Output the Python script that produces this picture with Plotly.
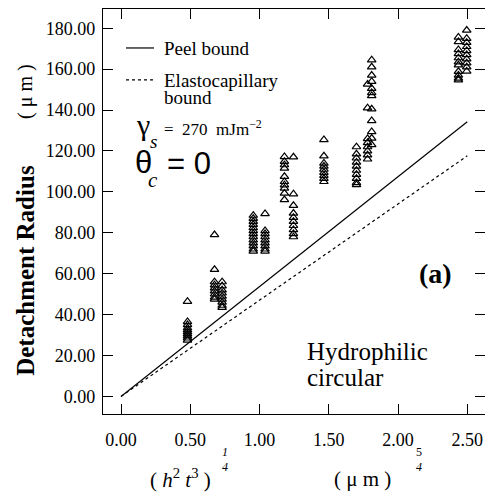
import plotly.graph_objects as go

# ---- data ----
ax_x = [0.48]
ax_y = [46.4, 36.5, 35.0, 33.5, 32.5, 31.5, 30.5, 29.5, 28.5, 27.5]
b_x = [0.675]
b_y = [79.0, 62.0, 56.0, 54.5, 53.0, 51.5, 50.0, 48.5, 47.5]
c_x = [0.73]
c_y = [56.0, 54.0, 52.0, 50.5, 49.0, 47.5, 46.0, 44.5, 43.5]
d_x = [0.955]
d_y = [88.5, 87.0, 85.5, 84.0, 82.5, 81.0, 79.5, 78.0, 76.5, 75.0, 73.5, 72.0, 71.0]
e_x = [1.04]
e_y = [89.3, 81.0, 79.5, 78.0, 76.5, 75.0, 73.5, 72.0, 71.0]
f_x = [1.18]
f_y = [117.2, 114.8, 113.2, 111.5, 107.5, 105.0, 103.4, 101.8, 99.3, 96.1]
g_x = [1.245]
g_y = [117.0, 99.0, 93.3, 89.5, 87.5, 85.5, 83.5, 81.5, 79.5, 78.0]
h_x = [1.465]
h_y = [125.5, 117.5, 114.0, 112.5, 111.0, 109.5, 108.0, 106.5, 105.0]
i_x = [1.70]
i_y = [122.0, 118.5, 116.5, 114.5, 112.5, 110.5, 108.5, 106.5, 104.5, 103.5]
j1_x = [1.78]
j1_y = [152.6, 141.0, 126.0, 124.0, 122.0, 120.0, 118.0, 116.0]
j2_x = [1.81]
j2_y = [164.5, 161.0, 157.0, 154.0, 150.5, 148.5, 147.0, 140.5, 134.8, 129.4, 126.2, 123.0]
k_x = [2.436]
k_y = [175.6, 173.4, 169.5, 167.5, 165.5, 163.5, 162.0, 158.8, 157.0, 155.5, 154.7]
l_x = [2.496]
l_y = [179.0, 175.0, 173.0, 171.0, 169.0, 167.0, 165.0, 163.0, 161.0, 159.0]

line_x = [0.0, 2.5]
peel_y = [0.0, 134.3]
elasto_y = [0.0, 117.6]

x_ticks = [0.0, 0.5, 1.0, 1.5, 2.0, 2.5]
y_ticks = [0, 20, 40, 60, 80, 100, 120, 140, 160, 180]

clusters = [(ax_x, ax_y), (b_x, b_y), (c_x, c_y), (d_x, d_y), (e_x, e_y), (f_x, f_y),
            (g_x, g_y), (h_x, h_y), (i_x, i_y), (j1_x, j1_y), (j2_x, j2_y),
            (k_x, k_y), (l_x, l_y)]
pts_x, pts_y = [], []
for cx, cy in clusters:
    pts_x += cx * len(cy)
    pts_y += cy

SERIF = "'Liberation Serif', 'Times New Roman', Times, 'DejaVu Serif', serif"
SANS = "'Liberation Sans', Arial, Helvetica, sans-serif"

fig = go.Figure()
fig.add_trace(go.Scatter(x=line_x, y=peel_y, mode="lines",
                         line=dict(color="black", width=1.2), showlegend=False))
fig.add_trace(go.Scatter(x=line_x, y=elasto_y, mode="lines",
                         line=dict(color="black", width=1.2, dash="dot"), showlegend=False))
fig.add_trace(go.Scatter(x=pts_x, y=pts_y, mode="markers",
                         marker=dict(symbol="triangle-up-open", size=7.5,
                                     color="black", line=dict(width=1.2, color="black")),
                         showlegend=False))

# plot area in pixels: x 103..485, y 9..414.3
L, R, T, B = 103, 485, 9, 414.3
def px(X):
    return (X - L) / (R - L)
def py(Y):
    return (B - Y) / (B - T)

anns = []
def ann(text, X, Y, size, font=SERIF, xanchor="center", angle=0, color="black"):
    anns.append(dict(text=text, x=px(X), y=py(Y), xref="paper", yref="paper",
                     xanchor=xanchor, yanchor="middle", showarrow=False,
                     textangle=angle, font=dict(family=font, size=size, color=color)))

# legend
ann("Peel bound", 162, 49, 19, xanchor="left")
ann("Elastocapillary", 162, 81, 19, xanchor="left")
ann("bound", 162, 98, 19, xanchor="left")
shapes = [
    dict(type="line", xref="paper", yref="paper", x0=px(126), x1=px(154), y0=py(48), y1=py(48),
         line=dict(color="black", width=1.2)),
    dict(type="line", xref="paper", yref="paper", x0=px(126), x1=px(154), y0=py(80), y1=py(80),
         line=dict(color="black", width=1.2, dash="dot")),
]

# gamma_s = 270 mJm^-2
ann("γ", 143, 125, 30)
ann("<i>s</i>", 153, 142, 19)
ann("=  270  mJm<sup>−2</sup>", 162, 128, 17, xanchor="left")
# theta_c = 0
ann("θ", 143, 163, 31, font=SANS)
ann("<i>c</i>", 153, 180, 21)
ann("= 0", 165, 164, 31, font=SANS, xanchor="left")

# (a)
ann("<b>(a)</b>", 435, 274, 28)
# Hydrophilic circular
ann("Hydrophilic", 305, 352, 25, xanchor="left")
ann("circular", 305, 378, 25, xanchor="left")

# y axis title
ann("<b>Detachment Radius</b>", 26, 271, 25, angle=-90)
ann("( μ m )", 26, 92, 20, angle=-90)

# x axis title
ann("( <i>h</i><sup>2</sup> <i>t</i><sup>3</sup> )", 180, 479, 21)
ann("<i>1</i>", 225, 452, 12)
ann("<i>4</i>", 225, 467, 12)
ann("( μ m )", 362, 479, 21)
ann("5", 419, 452, 12)
ann("<i>4</i>", 419, 467, 12)

axis_common = dict(showline=True, linecolor="black", linewidth=1.3, mirror="allticks",
                   ticks="inside", ticklen=10, tickwidth=1.2, tickcolor="black",
                   showgrid=False, zeroline=False,
                   tickfont=dict(family=SERIF, size=18, color="black"))

fig.update_layout(
    width=485, height=494,
    margin=dict(l=L, r=485 - R, t=T, b=494 - B),
    paper_bgcolor="white", plot_bgcolor="white",
    font=dict(family=SERIF, color="black"),
    xaxis=dict(range=[-0.13, 2.628], tickvals=x_ticks, tickformat=".2f",
               ticklabelstandoff=9, **axis_common),
    yaxis=dict(range=[-8.6, 189.4], tickvals=y_ticks, tickformat=".2f",
               ticklabelstandoff=3, **axis_common),
    annotations=anns, shapes=shapes,
)

fig.write_html("out.html")
